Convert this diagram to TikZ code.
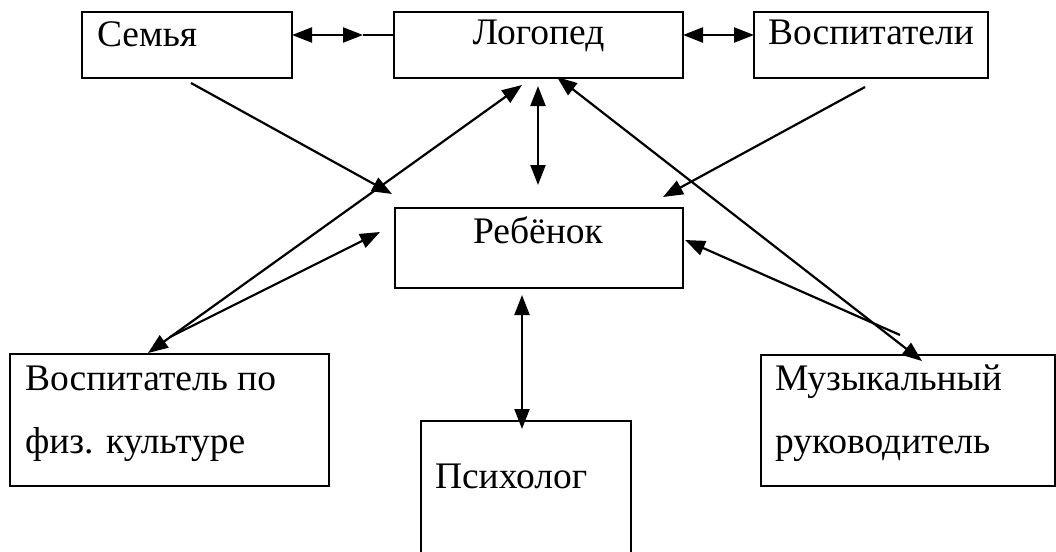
\documentclass[tikz,border=0pt]{standalone}
\usepackage{fontspec}
\setmainfont{Liberation Serif}
\newfontfamily\rufont{Liberation Serif}
\usetikzlibrary{arrows.meta}
\tikzset{
  box/.style={draw, line width=2.2pt, rectangle, inner sep=0pt, outer sep=0pt},
  txt/.style={inner sep=0pt, outer sep=0pt, font=\rufont\fontsize{37.5}{45}\selectfont},
  link/.style={line width=2.2pt},
  tipshape/.tip={Triangle[length=20pt,width=15pt]},
  onetip/.style={link, -tipshape},
  twotip/.style={link, tipshape-tipshape},
}
\begin{document}
\begin{tikzpicture}[x=1pt,y=-1pt]
\useasboundingbox (0,0) rectangle (1056,551);
\clip (0,0) rectangle (1056,551);
% boxes
\node[box, minimum width=210pt, minimum height=66pt] (semya) at (187,45) {};
\node[box, minimum width=289pt, minimum height=66pt] (logoped) at (538.5,45) {};
\node[box, minimum width=234pt, minimum height=66pt] (vosp) at (871,45) {};
\node[box, minimum width=288pt, minimum height=80pt] (rebenok) at (539,248) {};
\node[box, minimum width=319pt, minimum height=132pt] (fiz) at (169.5,420) {};
\node[box, minimum width=210pt, minimum height=140pt] (psy) at (526,491) {};
\node[box, minimum width=294pt, minimum height=131pt] (muz) at (908,420.5) {};
% texts
\node[txt, anchor=base west] (tsemya) at (97,47) {Семья};
\node[txt, anchor=base] (tlogoped) at (538.5,45) {Логопед};
\node[txt, anchor=base west] (tvosp) at (768,45) {Воспитатели};
\node[txt, anchor=base] (trebenok) at (538,243) {Ребёнок};
\node[txt, anchor=base west] (tfiz1) at (25,390) {Воспитатель по};
\node[txt, anchor=base west] (tfiz2) at (25,453) {физ. культуре};
\node[txt, anchor=base west] (tmuz1) at (775,390) {Музыкальный};
\node[txt, anchor=base west] (tmuz2) at (775,453) {руководитель};
\node[txt, anchor=base west] (tpsy) at (435,488) {Психолог};
% free connector ends
\coordinate (sl) at (363,35);
\coordinate (s1) at (191,83);
\coordinate (e1) at (392,194);
\coordinate (lv1) at (538,86);
\coordinate (lv2) at (538,185);
\coordinate (s2) at (865,87);
\coordinate (e2) at (663,197);
\coordinate (f1) at (148,353);
\coordinate (f2) at (522,85);
\coordinate (f3) at (170,337);
\coordinate (f4) at (380,232);
\coordinate (m1) at (922,361);
\coordinate (m2) at (557,77);
\coordinate (m3) at (900,335);
\coordinate (m4) at (685,240);
\coordinate (p1) at (522,295);
\coordinate (p2) at (522,429);
% connectors
\draw[twotip] (semya.east |- sl) -- (sl);
\draw[link] (sl) -- (logoped.west |- sl);
\draw[twotip] (logoped.east |- sl) -- (vosp.west |- sl);
\draw[onetip] (s1) -- (e1);
\draw[twotip] (lv1) -- (lv2);
\draw[onetip] (s2) -- (e2);
\draw[twotip] (f1) -- (f2);
\draw[onetip] (f3) -- (f4);
\draw[twotip] (m1) -- (m2);
\draw[onetip] (m3) -- (m4);
\draw[twotip] (p1) -- (p2);
\end{tikzpicture}
\end{document}
